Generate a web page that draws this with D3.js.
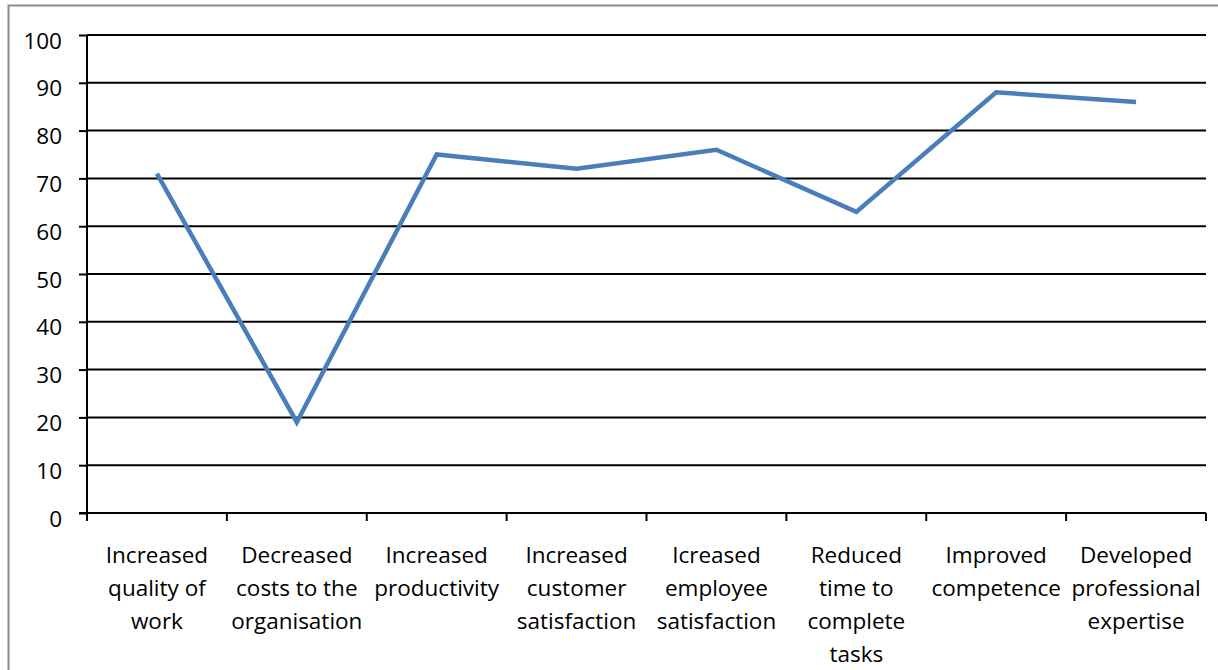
<!DOCTYPE html>
<html>
<head>
<meta charset="utf-8">
<script src="https://cdn.jsdelivr.net/npm/d3@7"></script>
<style>
  html, body { margin: 0; padding: 0; background: #fff; }
  svg { display: block; }
  text { font-family: "Open Sans", Lato, sans-serif; fill: #000; }
</style>
</head>
<body>
<svg id="chart" width="1218" height="670"></svg>
<script>
// Reported benefits (% of respondents)
const categories = [
  ["Increased", "quality of", "work"],
  ["Decreased", "costs to the", "organisation"],
  ["Increased", "productivity"],
  ["Increased", "customer", "satisfaction"],
  ["Icreased", "employee", "satisfaction"],
  ["Reduced", "time to", "complete", "tasks"],
  ["Improved", "competence"],
  ["Developed", "professional", "expertise"]
];
const values = [71, 19, 75, 72, 76, 63, 88, 86];
const yTicks = [0, 10, 20, 30, 40, 50, 60, 70, 80, 90, 100];

const svg = d3.select("#chart");
const W = 1218, H = 670;
const plotLeft = 87, plotRight = 1206, plotTop = 35, plotBottom = 513;
const FONT = "'Open Sans', Lato, sans-serif";
const FS = 22.5;

// outer frame
svg.append("rect")
  .attr("x", 8.5).attr("y", 5.5)
  .attr("width", W + 10).attr("height", H + 10)
  .attr("fill", "none").attr("stroke", "#8c8c8c").attr("stroke-width", 2);

const keys = categories.map((c, i) => i);
const x = d3.scaleBand().domain(keys).range([plotLeft, plotRight]);
const y = d3.scaleLinear().domain([0, 100]).range([plotBottom, plotTop]);

// horizontal gridlines
svg.append("g")
  .selectAll("line")
  .data(yTicks.filter(t => t > 0))
  .join("line")
  .attr("x1", plotLeft).attr("x2", plotRight)
  .attr("y1", d => y(d)).attr("y2", d => y(d))
  .attr("stroke", "#000").attr("stroke-width", 2);

// y axis
const yAxis = svg.append("g")
  .attr("transform", `translate(${plotLeft},0)`)
  .call(d3.axisLeft(y).tickValues(yTicks).tickSize(8).tickPadding(17));
yAxis.select(".domain").attr("stroke", "#000").attr("stroke-width", 2)
  .attr("d", `M0,${plotBottom}V${plotTop}`);
yAxis.selectAll(".tick line").attr("stroke", "#000").attr("stroke-width", 2);
yAxis.selectAll(".tick text")
  .attr("font-size", FS).attr("font-family", FONT).attr("fill", "#000")
  .attr("dy", "0.58em");

// x axis baseline and tick marks at band boundaries
const xg = svg.append("g");
xg.append("line")
  .attr("x1", plotLeft - 8).attr("x2", plotRight)
  .attr("y1", plotBottom).attr("y2", plotBottom)
  .attr("stroke", "#000").attr("stroke-width", 2);
const bounds = keys.map(k => x(k)).concat([x(keys[keys.length - 1]) + x.bandwidth()]);
xg.selectAll("line.tk")
  .data(bounds)
  .join("line")
  .attr("class", "tk")
  .attr("x1", d => d).attr("x2", d => d)
  .attr("y1", plotBottom).attr("y2", plotBottom + 8)
  .attr("stroke", "#000").attr("stroke-width", 2);

// category labels
const lbl = xg.selectAll("text.cat")
  .data(categories)
  .join("text")
  .attr("class", "cat")
  .attr("text-anchor", "middle")
  .attr("font-size", FS)
  .attr("font-family", FONT)
  .attr("transform", (d, i) => `translate(${x(i) + x.bandwidth() / 2},${plotBottom + 50})`);
lbl.selectAll("tspan")
  .data(d => d)
  .join("tspan")
  .attr("x", 0)
  .attr("dy", (d, i) => i === 0 ? 0 : 33)
  .text(d => d);

// series line
const line = d3.line()
  .x((d, i) => x(i) + x.bandwidth() / 2)
  .y(d => y(d));
svg.append("path")
  .datum(values)
  .attr("d", line)
  .attr("fill", "none")
  .attr("stroke", "#4a7ebb")
  .attr("stroke-width", 4.5)
  .attr("stroke-linejoin", "miter");
</script>
</body>
</html>
